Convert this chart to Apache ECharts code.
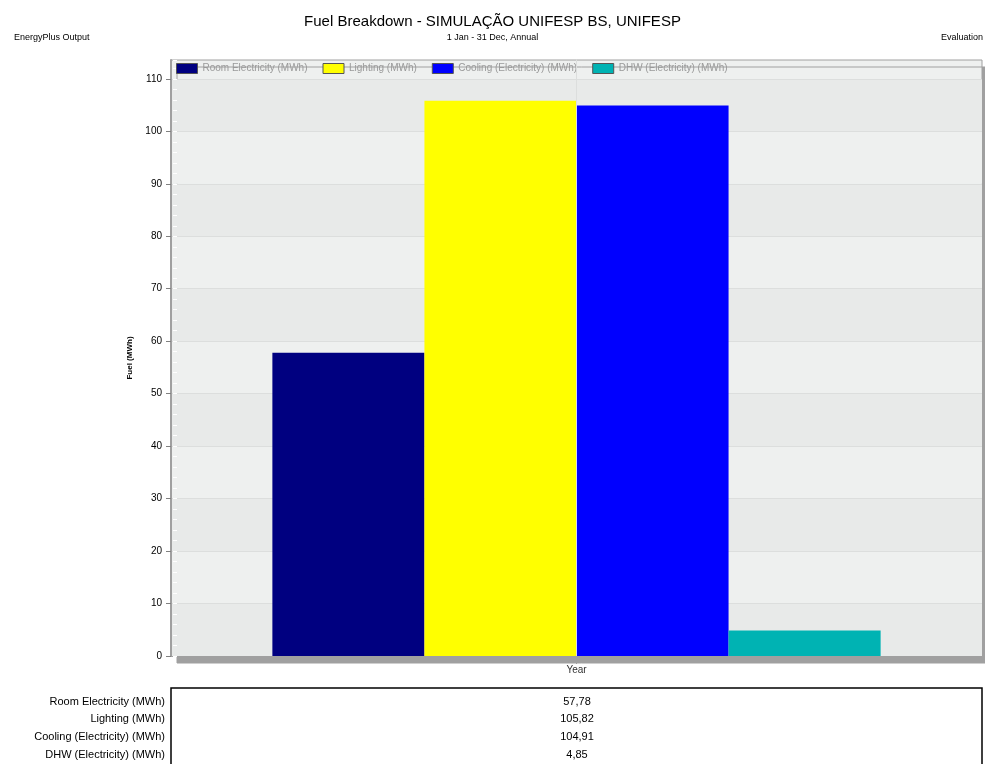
<!DOCTYPE html>
<html><head><meta charset="utf-8">
<script src="https://cdn.jsdelivr.net/npm/echarts@6/dist/echarts.min.js"></script>
<style>html,body{margin:0;padding:0;background:#fff}#c{width:985px;height:764px}</style>
</head><body><div id="c"></div>
<script>
const categories = ['Year'];
const seriesNames = ['Room Electricity (MWh)', 'Lighting (MWh)', 'Cooling (Electricity) (MWh)', 'DHW (Electricity) (MWh)'];
const seriesValues = [57.78, 105.82, 104.91, 4.85];
const seriesColors = ['#000080', '#ffff00', '#0000ff', '#00b3b3'];
const yTicks = [0, 10, 20, 30, 40, 50, 60, 70, 80, 90, 100, 110];
const yMax = 113.6;

const FONT = 'Liberation Sans, Arial, sans-serif';
const chart = echarts.init(document.getElementById('c'), null, {renderer: 'canvas'});

const series = seriesNames.map((n, i) => ({
  name: n, type: 'bar', data: [seriesValues[i]], z: 3,
  barGap: '0%', barCategoryGap: '25%',
  itemStyle: {color: seriesColors[i]}
}));
series.push({
  name: '_grid', type: 'line', data: [], z: 1, silent: true, symbol: 'none',
  markLine: {silent: true, symbol: 'none', label: {show: false},
    lineStyle: {color: '#dcdedd', width: 1, type: 'solid'},
    data: [{xAxis: categories[0]}]}
});

const tableTexts = [];
seriesNames.forEach((n, i) => {
  tableTexts.push({type: 'text', x: 165, y: 696 + i * 17.7,
    style: {text: n, font: '11px ' + FONT, fill: '#000', textAlign: 'right'}});
  tableTexts.push({type: 'text', x: 577, y: 696 + i * 17.7,
    style: {text: seriesValues[i].toFixed(2).replace('.', ','), font: '11px ' + FONT, fill: '#000', textAlign: 'center'}});
});

chart.setOption({
  animation: false,
  backgroundColor: '#fff',
  title: [
    {text: 'Fuel Breakdown - SIMULAÇÃO UNIFESP BS, UNIFESP', left: 'center', top: 9,
      textStyle: {fontFamily: FONT, fontSize: 15, fontWeight: 'normal', color: '#000'}},
    {text: '1 Jan - 31 Dec, Annual', left: 'center', top: 28,
      textStyle: {fontFamily: FONT, fontSize: 9, fontWeight: 'normal', color: '#000'}},
    {text: 'EnergyPlus Output', left: 9, top: 28,
      textStyle: {fontFamily: FONT, fontSize: 9, fontWeight: 'normal', color: '#000'}},
    {text: 'Evaluation', right: -3, top: 28,
      textStyle: {fontFamily: FONT, fontSize: 9, fontWeight: 'normal', color: '#000'}}
  ],
  legend: {
    data: seriesNames, left: 176, top: 63, itemWidth: 21, itemHeight: 10, itemGap: 15,
    icon: 'rect', padding: 0,
    itemStyle: {borderColor: '#555', borderWidth: 1},
    textStyle: {fontFamily: FONT, fontSize: 10, color: '#999'}
  },
  grid: {
    left: 171, top: 60, right: 3, bottom: 108, show: true,
    backgroundColor: '#eef0ef', borderColor: '#a0a0a0', borderWidth: 1,
    shadowColor: '#a0a0a0', shadowOffsetX: 6, shadowOffsetY: 7, shadowBlur: 0
  },
  xAxis: {
    type: 'category', data: categories,
    axisLine: {show: true, lineStyle: {color: '#a0a0a0', width: 1}},
    axisTick: {show: true, alignWithLabel: true, length: 8, lineStyle: {color: '#a0a0a0'}},
    axisLabel: {fontFamily: FONT, fontSize: 10, color: '#333', margin: 9},
    splitLine: {show: false}
  },
  yAxis: [{
    type: 'value', min: 0, max: yMax, interval: 10,
    name: 'Fuel (MWh)', nameLocation: 'middle', nameGap: 37, nameRotate: 90,
    nameTextStyle: {fontFamily: FONT, fontSize: 8, fontWeight: 'bold', color: '#000'},
    axisLine: {show: true, lineStyle: {color: '#a0a0a0', width: 2}},
    axisTick: {show: true, length: 5, lineStyle: {color: '#808080'}, customValues: yTicks},
    axisLabel: {fontFamily: FONT, fontSize: 10, color: '#000', margin: 9, customValues: yTicks},
    splitLine: {show: true, lineStyle: {color: '#dcdedd', width: 1}},
    splitArea: {show: true, areaStyle: {color: ['#e8eae9', '#eef0ef']}}
  }, {
    type: 'value', min: 0, max: yMax, interval: 2, position: 'left', offset: -2,
    axisLine: {show: false},
    axisTick: {show: true, inside: true, length: 4, lineStyle: {color: '#ffffff'}},
    axisLabel: {show: false}, splitLine: {show: false}
  }],
  series: series,
  graphic: [
    {type: 'rect', shape: {x: 171, y: 688, width: 811, height: 90},
      style: {fill: '#fff', stroke: '#000', lineWidth: 1.5}},
    ...tableTexts
  ]
});
</script></body></html>
